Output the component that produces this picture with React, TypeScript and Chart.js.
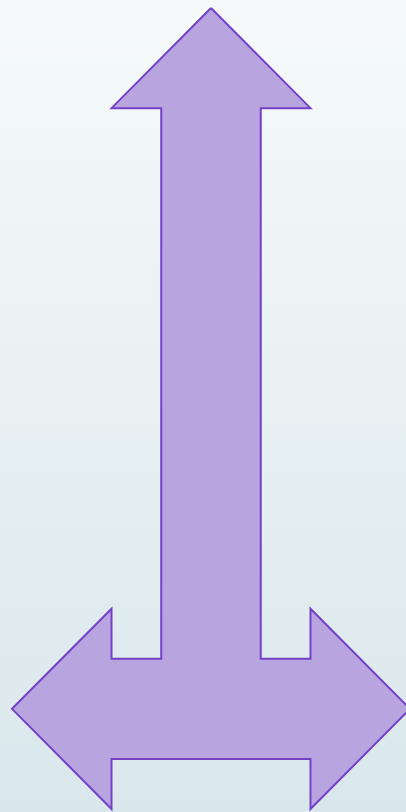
import React, { useEffect, useRef } from "react";
import { Chart, registerables } from "chart.js";

Chart.register(...registerables);

// Outline of the arrow shape, in grid units (x to the right, y upwards)
const shapeX = [4, 6, 5, 5, 6, 6, 8, 6, 6, 2, 2, 0, 2, 2, 3, 3, 2, 4];
const shapeY = [16, 14, 14, 3, 3, 4, 2, 0, 1, 1, 0, 2, 4, 3, 3, 14, 14, 16];

const xMin = -0.2412;
const xMax = 7.9196;
const yMin = -0.06;
const yMax = 16.16;

export default function App() {
  const ref = useRef<HTMLCanvasElement | null>(null);

  useEffect(() => {
    if (!ref.current) return;
    const points = shapeX.map((x, i) => ({ x, y: shapeY[i] }));
    const chart = new Chart(ref.current, {
      type: "scatter",
      data: {
        datasets: [
          {
            data: points,
            showLine: true,
            fill: "shape",
            tension: 0,
            borderColor: "#7440c8",
            borderWidth: 2,
            borderJoinStyle: "miter",
            backgroundColor: "#b8a5e0",
            pointRadius: 0,
            pointHoverRadius: 0,
          } as any,
        ],
      },
      options: {
        animation: false,
        responsive: true,
        maintainAspectRatio: false,
        layout: { padding: 0 },
        plugins: {
          legend: { display: false },
          tooltip: { enabled: false },
          title: { display: false },
        },
        scales: {
          x: { type: "linear", min: xMin, max: xMax, display: false },
          y: { type: "linear", min: yMin, max: yMax, display: false },
        },
      },
    });
    return () => chart.destroy();
  }, []);

  return (
    <div
      style={{
        position: "fixed",
        left: 0,
        top: 0,
        width: 406,
        height: 812,
        background: "linear-gradient(to bottom, #f6fafb 0%, #e8f0f2 50%, #d9e7ec 100%)",
      }}
    >
      <canvas ref={ref} />
    </div>
  );
}
